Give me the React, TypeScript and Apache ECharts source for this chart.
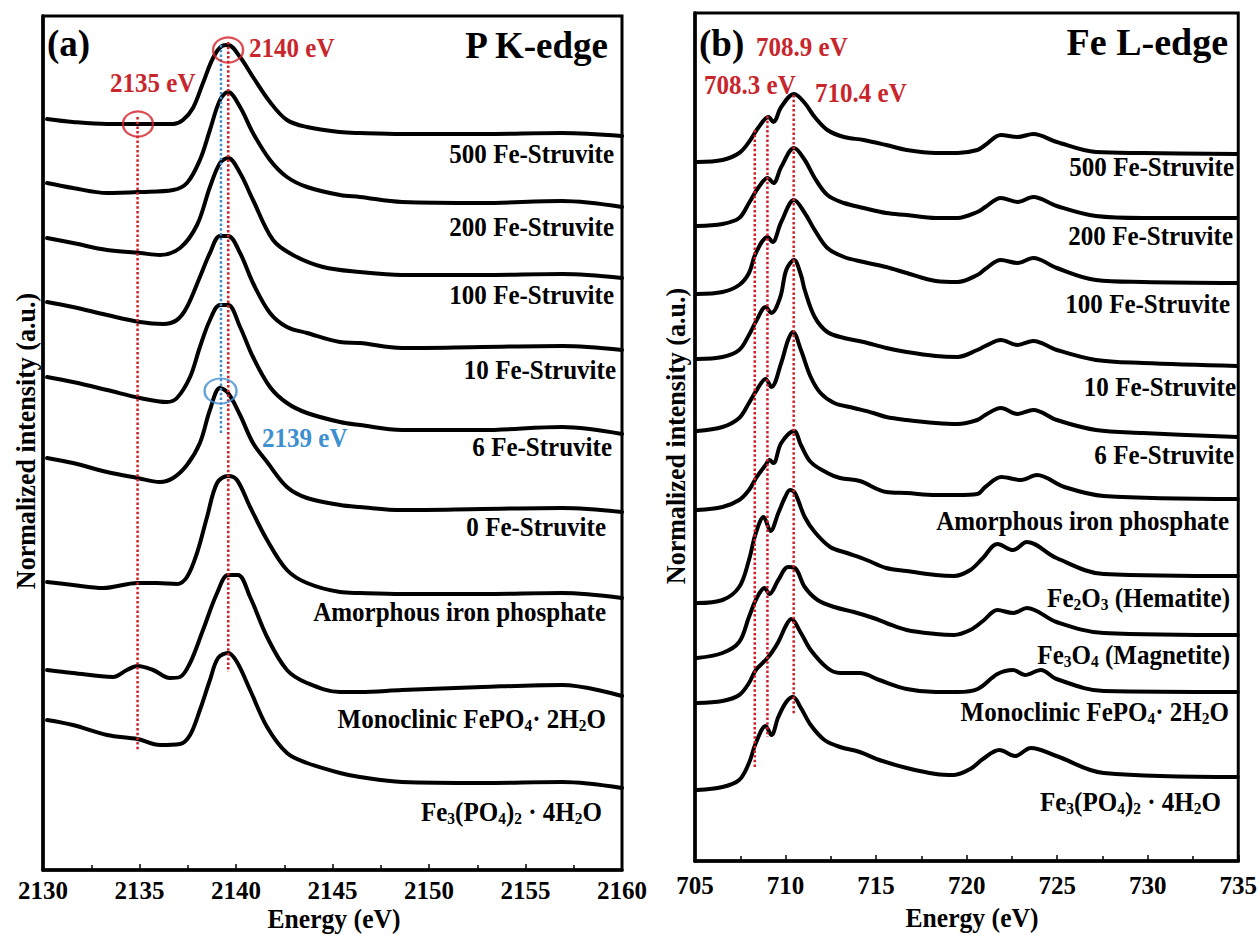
import React, { useEffect, useRef } from 'react';
import * as echarts from 'echarts';

// ---------- P K-edge spectra (energy eV, stacked normalized intensity a.u.) ----------
const pK500 = [[2130.21,7.51],[2131.55,7.48],[2133.32,7.46],[2134.92,7.46],[2136.74,7.46],[2137.25,7.50],[2137.77,7.62],[2138.29,7.87],[2138.81,8.12],[2139.27,8.24],[2139.59,8.25],[2140.21,8.13],[2140.88,7.93],[2141.76,7.68],[2142.64,7.50],[2143.68,7.43],[2145.39,7.38],[2146.42,7.37],[2148.60,7.36],[2152.75,7.36],[2156.89,7.37],[2160.0,7.34]];
const pK200 = [[2130.21,6.87],[2131.55,6.82],[2133.32,6.77],[2135.03,6.78],[2136.74,6.80],[2137.46,6.87],[2138.13,7.10],[2138.65,7.40],[2139.17,7.70],[2139.59,7.78],[2140.21,7.63],[2140.88,7.37],[2141.76,7.10],[2142.64,6.93],[2143.68,6.83],[2145.39,6.75],[2146.42,6.73],[2148.60,6.68],[2152.75,6.67],[2156.89,6.69],[2160.0,6.63]];
const pK100 = [[2130.21,6.32],[2131.55,6.27],[2133.32,6.20],[2135.03,6.17],[2136.06,6.15],[2137.10,6.22],[2137.98,6.45],[2138.65,6.83],[2139.17,7.07],[2139.59,7.12],[2140.21,6.97],[2140.88,6.70],[2141.92,6.30],[2142.95,6.15],[2144.51,6.03],[2146.42,5.98],[2148.60,5.95],[2152.75,5.95],[2156.89,5.96],[2160.0,5.92]];
const pK10 = [[2130.21,5.68],[2131.55,5.63],[2133.32,5.55],[2135.03,5.48],[2136.22,5.46],[2136.94,5.50],[2137.46,5.63],[2138.13,5.93],[2138.65,6.17],[2139.17,6.34],[2139.59,6.34],[2140.21,6.17],[2140.88,5.87],[2141.76,5.57],[2142.64,5.43],[2143.68,5.37],[2145.39,5.28],[2146.42,5.27],[2148.60,5.22],[2152.75,5.23],[2156.89,5.24],[2160.0,5.20]];
const pK6 = [[2130.21,4.93],[2131.55,4.88],[2133.32,4.80],[2135.03,4.72],[2136.42,4.68],[2136.94,4.72],[2137.62,4.93],[2138.13,5.23],[2138.65,5.50],[2139.17,5.65],[2139.59,5.65],[2140.21,5.43],[2140.88,5.13],[2141.76,4.83],[2142.64,4.67],[2143.68,4.57],[2145.39,4.48],[2146.42,4.45],[2148.60,4.40],[2152.75,4.40],[2156.89,4.43],[2160.0,4.36]];
const pK0 = [[2130.21,4.12],[2131.55,4.07],[2133.32,3.98],[2134.90,3.92],[2136.06,3.88],[2136.74,3.92],[2137.46,4.05],[2138.13,4.27],[2138.65,4.60],[2139.17,4.82],[2139.59,4.77],[2140.21,4.55],[2140.88,4.27],[2141.61,4.08],[2142.64,3.83],[2143.68,3.72],[2145.39,3.65],[2146.42,3.63],[2148.60,3.60],[2152.75,3.61],[2156.89,3.62],[2160.0,3.58]];
const pKAmorph = [[2130.21,2.88],[2131.55,2.85],[2133.11,2.82],[2134.90,2.87],[2135.91,2.87],[2136.94,2.86],[2137.46,2.93],[2137.98,3.17],[2138.50,3.53],[2139.02,3.87],[2139.59,3.94],[2140.05,3.90],[2140.73,3.63],[2141.61,3.30],[2142.64,3.00],[2143.68,2.87],[2145.39,2.78],[2146.42,2.77],[2148.60,2.76],[2152.75,2.76],[2156.89,2.77],[2160.0,2.72]];
const pKMono = [[2130.21,2.00],[2131.55,1.97],[2133.63,1.93],[2134.35,2.00],[2134.90,2.04],[2135.70,2.00],[2136.58,1.92],[2137.10,1.93],[2137.62,2.07],[2138.29,2.40],[2139.02,2.77],[2139.59,2.95],[2140.10,2.95],[2140.73,2.73],[2141.61,2.33],[2142.64,2.00],[2143.68,1.87],[2145.39,1.78],[2146.42,1.78],[2148.60,1.80],[2152.75,1.83],[2156.89,1.85],[2160.0,1.74]];
const pKFe3 = [[2130.21,1.50],[2131.55,1.45],[2133.32,1.35],[2134.90,1.31],[2136.06,1.25],[2137.10,1.26],[2137.62,1.35],[2138.13,1.60],[2138.65,1.90],[2139.07,2.12],[2139.59,2.17],[2140.05,2.08],[2140.73,1.80],[2141.61,1.43],[2142.64,1.17],[2143.68,1.07],[2145.39,0.97],[2146.42,0.93],[2148.60,0.88],[2152.75,0.87],[2156.89,0.88],[2160.0,0.82]];

const pSpectra = [pK500, pK200, pK100, pK10, pK6, pK0, pKAmorph, pKMono, pKFe3];
const pLabels = ['500 Fe-Struvite','200 Fe-Struvite','100 Fe-Struvite','10 Fe-Struvite','6 Fe-Struvite','0 Fe-Struvite','Amorphous iron phosphate','Monoclinic FePO_4· 2H_2O','Fe_3(PO_4)_2 · 4H_2O'];
// reference lines: [energy, top, bottom]
const pRedLines = [[2134.9, 7.53, 1.20], [2139.6, 8.28, 1.98]];
const pBlueLines = [[2139.22, 8.25, 4.37]];
const pRedMarks = [[2134.92, 7.46], [2139.59, 8.20]];
const pBlueMarks = [[2139.2, 4.79]];

// ---------- Fe L-edge spectra ----------
const fe500 = [[705.11,6.99],[706.52,7.01],[707.44,7.08],[707.98,7.19],[708.52,7.34],[709.06,7.44],[709.33,7.39],[709.76,7.54],[710.47,7.67],[711.06,7.58],[711.61,7.44],[712.31,7.31],[713.23,7.24],[714.31,7.21],[715.56,7.16],[716.69,7.11],[718.3,7.08],[719.5,7.08],[720.59,7.11],[721.03,7.16],[721.89,7.26],[722.81,7.24],[723.68,7.27],[724.98,7.19],[727.14,7.09],[729.74,7.08],[734.94,7.07]];
const fe200 = [[705.11,6.35],[706.52,6.37],[707.44,6.43],[707.98,6.58],[708.52,6.74],[709.01,6.83],[709.33,6.78],[709.76,6.94],[710.47,7.13],[711.06,7.01],[711.61,6.83],[712.31,6.66],[713.23,6.58],[714.31,6.53],[715.56,6.48],[716.69,6.46],[718.3,6.43],[719.5,6.43],[720.59,6.49],[721.03,6.54],[721.89,6.63],[722.81,6.59],[723.68,6.64],[724.98,6.55],[727.14,6.45],[729.74,6.43],[734.94,6.43]];
const fe100 = [[705.11,5.67],[706.52,5.69],[707.44,5.76],[707.98,5.88],[708.36,6.08],[709.01,6.24],[709.28,6.19],[709.76,6.39],[710.47,6.61],[711.06,6.48],[711.61,6.31],[712.31,6.13],[713.23,6.04],[714.31,5.99],[715.56,5.94],[716.69,5.88],[718.3,5.80],[719.5,5.79],[720.59,5.86],[721.03,5.92],[721.89,6.01],[722.81,5.98],[723.68,6.03],[724.98,5.93],[727.14,5.81],[729.74,5.79],[734.94,5.78]];
const fe10 = [[705.11,5.02],[706.52,5.04],[707.44,5.11],[707.98,5.26],[708.41,5.41],[708.90,5.54],[709.22,5.48],[709.71,5.64],[710.04,5.91],[710.47,6.01],[710.85,5.86],[711.06,5.71],[711.61,5.44],[712.31,5.29],[713.23,5.23],[714.31,5.19],[715.56,5.13],[716.69,5.09],[718.3,5.05],[719.5,5.04],[720.59,5.11],[721.03,5.15],[721.89,5.21],[722.81,5.16],[723.68,5.20],[724.98,5.11],[727.14,5.01],[729.74,4.98],[734.94,4.95]];
const fe6 = [[705.11,4.30],[706.52,4.34],[707.44,4.43],[707.98,4.58],[708.41,4.71],[708.90,4.82],[709.22,4.74],[709.76,4.98],[710.14,5.21],[710.41,5.29],[710.85,5.11],[711.39,4.84],[711.93,4.68],[712.69,4.58],[713.77,4.53],[714.85,4.48],[715.56,4.44],[716.69,4.41],[718.3,4.38],[719.5,4.37],[720.59,4.41],[721.03,4.46],[721.89,4.53],[722.81,4.47],[723.68,4.51],[724.98,4.41],[727.14,4.31],[729.74,4.28],[734.94,4.24]];
const feAmorph = [[705.11,3.51],[706.52,3.54],[707.44,3.61],[707.98,3.71],[708.41,3.84],[708.90,3.96],[709.11,4.01],[709.33,3.98],[709.76,4.18],[710.47,4.30],[710.85,4.16],[711.39,3.99],[712.31,3.88],[713.01,3.83],[714.10,3.80],[715.56,3.69],[716.69,3.68],[718.3,3.66],[719.5,3.66],[720.59,3.67],[721.03,3.74],[721.92,3.84],[723.01,3.81],[723.88,3.86],[725.40,3.74],[727.57,3.65],[734.97,3.62]];
const feHematite = [[705.11,2.58],[706.52,2.61],[707.44,2.74],[707.98,3.01],[708.36,3.28],[708.79,3.44],[709.17,3.30],[709.60,3.48],[709.98,3.64],[710.25,3.71],[710.52,3.68],[711.06,3.44],[711.61,3.29],[712.47,3.14],[713.39,3.08],[714.47,3.01],[715.56,2.93],[716.69,2.90],[718.3,2.86],[719.3,2.85],[720.2,2.91],[720.9,3.03],[721.70,3.17],[722.57,3.11],[723.33,3.19],[724.96,3.03],[727.57,2.87],[734.97,2.85]];
const feMagnetite = [[705.11,2.03],[706.52,2.08],[707.44,2.19],[707.98,2.44],[708.41,2.63],[708.84,2.73],[709.11,2.67],[709.60,2.81],[710.14,2.94],[710.52,2.93],[711.06,2.74],[711.77,2.61],[712.69,2.54],[713.77,2.49],[714.85,2.43],[715.56,2.38],[716.69,2.31],[718.3,2.27],[719.3,2.26],[720.2,2.31],[720.9,2.40],[721.70,2.51],[722.57,2.48],[723.33,2.53],[724.96,2.39],[727.57,2.28],[734.97,2.26]];
const feMono = [[705.11,1.58],[706.52,1.60],[707.44,1.66],[707.98,1.78],[708.36,1.91],[708.90,2.01],[709.22,2.08],[709.60,2.19],[710.04,2.36],[710.31,2.42],[710.85,2.28],[711.39,2.11],[712.31,1.93],[713.01,1.88],[714.10,1.88],[715.18,1.81],[716.69,1.72],[718.3,1.69],[719.5,1.69],[720.61,1.72],[721.70,1.87],[722.57,1.91],[723.22,1.86],[724.10,1.91],[724.96,1.82],[727.57,1.70],[734.97,1.69]];
const feFe3 = [[705.11,0.71],[706.52,0.74],[707.44,0.81],[707.98,0.98],[708.36,1.18],[708.90,1.35],[709.22,1.26],[709.60,1.44],[710.04,1.59],[710.41,1.64],[710.85,1.53],[711.39,1.36],[712.15,1.21],[713.01,1.14],[714.10,1.09],[715.18,1.01],[716.69,0.93],[718.3,0.87],[719.3,0.86],[720.2,0.92],[720.9,1.02],[721.81,1.11],[722.68,1.05],[723.55,1.13],[724.96,1.05],[727.57,0.88],[734.97,0.84]];

const feSpectra = [fe500, fe200, fe100, fe10, fe6, feAmorph, feHematite, feMagnetite, feMono, feFe3];
const feLabels = ['500 Fe-Struvite','200 Fe-Struvite','100 Fe-Struvite','10 Fe-Struvite','6 Fe-Struvite','Amorphous iron phosphate','Fe_2O_3 (Hematite)','Fe_3O_4 (Magnetite)','Monoclinic FePO_4· 2H_2O','Fe_3(PO_4)_2 · 4H_2O'];
const feRedLines = [[708.3, 7.31, 0.94], [709.0, 7.45, 1.24], [710.45, 7.66, 1.46]];

// ---------- layout (pixels) ----------
const pLabelPos = [[614,154],[614,227],[614,295],[616,370],[612,447],[606,527],[606,612],[606,719],[602,812]];
const feLabelPos = [[1234,167],[1233,236],[1230,304],[1236,387],[1234,455],[1229,521],[1230,598],[1230,655],[1229,712],[1221,802]];

const SERIF = '"Liberation Serif", "Times New Roman", serif';
const RED = '#c8262d';
const LINE_RED = '#d21f28';
const BLUE = '#3e8fd0';
// the original typeface is a little narrower/taller than Liberation Serif
const SX = 0.91;

const toRich = (label: string) =>
  label.split(/(_\d)/).filter(Boolean).map(p => (p.startsWith('_') ? `{s|${p.slice(1)}}` : `{a|${p}}`)).join('');

const labelText = (label: string, x: number, y: number, color = '#000', size = 27.5, align = 'right') => ({
  type: 'text', x, y, scaleX: SX, silent: true,
  style: {
    text: toRich(label), align, verticalAlign: 'middle',
    rich: {
      a: { fontFamily: SERIF, fontWeight: 'bold', fontSize: size, lineHeight: size + 4, fill: color },
      s: { fontFamily: SERIF, fontWeight: 'bold', fontSize: Math.round(size * 0.62), lineHeight: Math.round(size * 0.62), verticalAlign: 'bottom', fill: color },
    },
  },
});

const plainText = (text: string, x: number, y: number, color: string, size: number, align = 'left', rotation = 0, sx = 1) => ({
  type: 'text', x, y, rotation, scaleX: sx, silent: true,
  style: { text, fill: color, fontFamily: SERIF, fontWeight: 'bold', fontSize: size, align, verticalAlign: 'middle' },
});

function buildOption() {
  const xAxisBase = (gi: number, min: number, max: number, margin: number) => ({
    gridIndex: gi, type: 'value', min, max, interval: 5,
    axisLine: { lineStyle: { color: '#000', width: 3.5 } },
    axisTick: { inside: true, length: 6, lineStyle: { color: '#000', width: 1.5 } },
    minorTick: { show: true, splitNumber: 2, length: 5, lineStyle: { color: '#000', width: 1.5 } },
    axisLabel: { color: '#000', fontFamily: SERIF, fontWeight: 'bold', fontSize: 25, margin, formatter: (v: number) => String(v) },
    splitLine: { show: false },
    minorSplitLine: { show: false },
  });
  const yAxisBase = (gi: number, max: number) => ({
    gridIndex: gi, type: 'value', min: 0, max,
    axisLine: { show: true, lineStyle: { color: '#000', width: 3.5 } },
    axisTick: { show: false }, axisLabel: { show: false }, splitLine: { show: false },
  });

  const series: any[] = [];
  const addSpectra = (arr: number[][][], idx: number) => {
    arr.forEach(d => series.push({
      type: 'line', xAxisIndex: idx, yAxisIndex: idx, data: d, smooth: 0.35,
      showSymbol: false, silent: true, z: 2,
      lineStyle: { color: '#000', width: 4, join: 'round', cap: 'round' },
    }));
  };
  const addVLines = (arr: number[][], idx: number, color: string) => {
    arr.forEach(([e, top, bot]) => series.push({
      type: 'line', xAxisIndex: idx, yAxisIndex: idx, data: [[e, top], [e, bot]],
      showSymbol: false, silent: true, z: 3,
      lineStyle: { color, width: 2.5, type: [2.5, 2.2] },
    }));
  };
  addSpectra(pSpectra, 0);
  addSpectra(feSpectra, 1);
  addVLines(pRedLines, 0, LINE_RED);
  addVLines(pBlueLines, 0, BLUE);
  addVLines(feRedLines, 1, LINE_RED);
  series.push({
    type: 'scatter', xAxisIndex: 0, yAxisIndex: 0, data: pRedMarks, symbol: 'circle', symbolSize: [30, 25], z: 4, silent: true,
    itemStyle: { color: 'rgba(0,0,0,0)', borderColor: LINE_RED, borderWidth: 2.2 },
  });
  series.push({
    type: 'scatter', xAxisIndex: 0, yAxisIndex: 0, data: pBlueMarks, symbol: 'circle', symbolSize: [32, 25], z: 4, silent: true,
    itemStyle: { color: 'rgba(0,0,0,0)', borderColor: BLUE, borderWidth: 2.2 },
  });

  const graphic: any[] = [
    plainText('(a)', 47, 43, '#000', 37),
    plainText('P K-edge', 608, 45, '#000', 37, 'right'),
    plainText('2140 eV', 249, 48, RED, 27.5, 'left', 0, SX),
    plainText('2135 eV', 110, 83, RED, 27.5, 'left', 0, SX),
    plainText('2139 eV', 262, 438, BLUE, 27.5, 'left', 0, SX),
    plainText('(b)', 699, 43, '#000', 37),
    plainText('Fe L-edge', 1228, 42, '#000', 38, 'right'),
    plainText('708.9 eV', 756, 47, RED, 27.5, 'left', 0, SX),
    plainText('708.3 eV', 704, 85, RED, 27.5, 'left', 0, SX),
    plainText('710.4 eV', 815, 93, RED, 27.5, 'left', 0, SX),
    plainText('Normalized intensity (a.u.)', 26, 441, '#000', 28, 'center', Math.PI / 2, 0.93),
    plainText('Normalized intensity (a.u.)', 676, 436, '#000', 28, 'center', Math.PI / 2, 0.93),
    plainText('Energy (eV)', 334, 919, '#000', 27, 'center', 0, 0.95),
    plainText('Energy (eV)', 972, 918, '#000', 27, 'center', 0, 0.95),
  ];
  pLabels.forEach((l, i) => graphic.push(labelText(l, pLabelPos[i][0], pLabelPos[i][1])));
  feLabels.forEach((l, i) => graphic.push(labelText(l, feLabelPos[i][0], feLabelPos[i][1])));

  return {
    animation: false,
    backgroundColor: '#fff',
    grid: [
      { left: 43, top: 16, width: 579, height: 854, show: true, borderColor: '#000', borderWidth: 3, backgroundColor: 'transparent' },
      { left: 695, top: 13, width: 554, height: 848, show: true, borderColor: '#000', borderWidth: 3, backgroundColor: 'transparent' },
    ],
    xAxis: [xAxisBase(0, 2130, 2160, 8), xAxisBase(1, 705, 735, 12)],
    yAxis: [yAxisBase(0, 8.54), yAxisBase(1, 8.48)],
    series,
    graphic,
  };
}

export default function App() {
  const ref = useRef<HTMLDivElement>(null);
  useEffect(() => {
    const chart = echarts.init(ref.current as HTMLDivElement, null, { renderer: 'svg' });
    chart.setOption(buildOption() as any);
    return () => chart.dispose();
  }, []);
  return (
    <div
      ref={ref}
      style={{ position: 'absolute', left: 0, top: 0, width: 1260, height: 935, background: '#fff' }}
    />
  );
}
